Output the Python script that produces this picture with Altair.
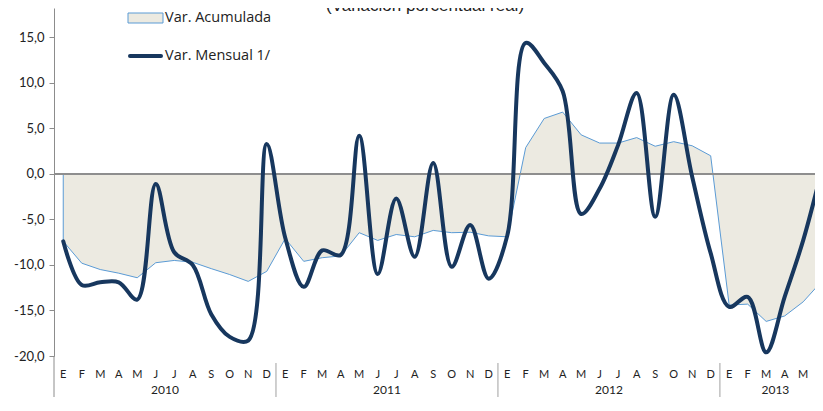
import altair as alt
import pandas as pd

# ---- data ----
month_letters = ["E", "F", "M", "A", "M", "J", "J", "A", "S", "O", "N", "D"]
years = ["2010", "2011", "2012", "2013"]
months_in_year = [12, 12, 12, 6]

mensual_2010 = [-7.4, -12.2, -11.9, -11.9, -13.8, -1.1, -8.6, -10.0, -15.4, -17.9, -18.3, 3.3]
mensual_2011 = [-7.0, -12.4, -8.4, -8.9, 4.2, -11.0, -2.7, -9.1, 1.2, -10.2, -5.6, -11.5]
mensual_2012 = [-6.8, 14.4, 12.2, 9.1, -4.4, -1.6, 3.2, 8.9, -4.7, 8.7, -0.3, -8.7]
mensual_2013 = [-14.6, -13.5, -19.6, -13.5, -7.3, 0.4]

acum_2010 = [-7.4, -9.8, -10.5, -10.9, -11.4, -9.75, -9.5, -9.7, -10.4, -11.05, -11.8, -10.7]
acum_2011 = [-7.1, -9.6, -9.2, -9.0, -6.45, -7.3, -6.65, -6.9, -6.2, -6.45, -6.4, -6.8]
acum_2012 = [-6.9, 2.9, 6.1, 6.8, 4.3, 3.4, 3.4, 4.0, 3.05, 3.55, 3.1, 2.0]
acum_2013 = [-14.4, -14.3, -16.2, -15.6, -14.05, -11.8]

y_ticks = [-20, -15, -10, -5, 0, 5, 10, 15]
title_text = "(Variación porcentual real)"
legend_labels = ["Var. Acumulada", "Var. Mensual 1/"]

# ---- tables ----
mensual = mensual_2010 + mensual_2011 + mensual_2012 + mensual_2013
acumulada = acum_2010 + acum_2011 + acum_2012 + acum_2013
n = len(mensual)
df = pd.DataFrame({
    "t": list(range(n)),
    "mensual": mensual,
    "acumulada": acumulada,
    "mes": [month_letters[i % 12] for i in range(n)],
})

starts = []
s = 0
for m in months_in_year:
    starts.append(s)
    s += m
df_years = pd.DataFrame({
    "year": years,
    "tc": [st + (m - 1) / 2 for st, m in zip(starts, months_in_year)],
})
df_sep_inner = pd.DataFrame({"t": [st - 0.5 for st in starts[1:]]})
df_sep_left = pd.DataFrame({"t": [-0.5]})

FONT = "Lato"
W, H = 761, 348
BOTTOM = 41
xscale = alt.Scale(domain=[-0.5, 40.64], nice=False, zero=False)
yscale = alt.Scale(domain=[-20, 18.24], nice=False, zero=False)

area = alt.Chart(df).mark_area(
    fill="#ECEAE1", stroke="#5B9BD5", strokeWidth=1, clip=True
).encode(
    x=alt.X("t:Q", scale=xscale, axis=None),
    y=alt.Y("acumulada:Q", scale=yscale, title=None,
            axis=alt.Axis(values=y_ticks, grid=False, tickSize=5, tickColor="#8C8C8C",
                          domainColor="#8C8C8C", domainWidth=1, labelPadding=5,
                          labelFont=FONT, labelFontSize=13, labelColor="#222222",
                          labelExpr="(datum.value < 0 ? '-' : '') + replace(format(abs(datum.value), '.1f'), '.', ',')")),
    y2=alt.datum(0),
)

zero = alt.Chart(pd.DataFrame({"v": [0]})).mark_rule(color="#8E8E8E", strokeWidth=2).encode(
    y=alt.Y("v:Q", scale=yscale)
)

line = alt.Chart(df).mark_line(
    color="#17375E", strokeWidth=4, interpolate="catmull-rom",
    clip=True, strokeCap="round", strokeJoin="round"
).encode(
    x=alt.X("t:Q", scale=xscale, axis=None),
    y=alt.Y("mensual:Q", scale=yscale),
)

month_text = alt.Chart(df).mark_text(
    font=FONT, fontSize=11, color="#222222", baseline="middle", align="center"
).encode(
    x=alt.X("t:Q", scale=xscale, axis=None),
    y=alt.value(367),
    text="mes:N",
)

year_text = alt.Chart(df_years).mark_text(
    font=FONT, fontSize=12, color="#222222", baseline="middle", align="center"
).encode(
    x=alt.X("tc:Q", scale=xscale, axis=None),
    y=alt.value(382),
    text="year:N",
)

sep_inner = alt.Chart(df_sep_inner).mark_rule(color="#A0A0A0", strokeWidth=1).encode(
    x=alt.X("t:Q", scale=xscale, axis=None),
    y=alt.value(355), y2=alt.value(H + BOTTOM),
)
sep_left = alt.Chart(df_sep_left).mark_rule(color="#8C8C8C", strokeWidth=1).encode(
    x=alt.X("t:Q", scale=xscale, axis=None),
    y=alt.value(H), y2=alt.value(H + BOTTOM),
)

# legend (drawn by hand)
leg_df1 = pd.DataFrame({"label": [legend_labels[0]]})
leg_df2 = pd.DataFrame({"label": [legend_labels[1]]})
leg_rect = alt.Chart(leg_df1).mark_rect(fill="#ECEAE1", stroke="#5B9BD5", strokeWidth=1).encode(
    x=alt.value(74), x2=alt.value(109), y=alt.value(5), y2=alt.value(15)
)
leg_text1 = alt.Chart(leg_df1).mark_text(
    font="Open Sans", fontSize=14.5, color="#222222", align="left", baseline="middle"
).encode(x=alt.value(111), y=alt.value(10), text="label:N")
leg_line = alt.Chart(leg_df2).mark_rule(color="#17375E", strokeWidth=4, strokeCap="round").encode(
    x=alt.value(76), x2=alt.value(107), y=alt.value(48)
)
leg_text2 = alt.Chart(leg_df2).mark_text(
    font="Open Sans", fontSize=14.5, color="#222222", align="left", baseline="middle"
).encode(x=alt.value(111), y=alt.value(48), text="label:N")

# chart title, cut off at the top edge as in the reference
title_df = pd.DataFrame({"label": [title_text]})
title = alt.Chart(title_df).mark_text(
    font="Liberation Sans", fontSize=17, color="#222222", align="center", baseline="alphabetic"
).encode(x=alt.value(371), y=alt.value(3), text="label:N")

chart = alt.layer(
    area, zero, line, month_text, year_text, sep_inner, sep_left,
    leg_rect, leg_text1, leg_line, leg_text2, title
).properties(
    width=W, height=H,
    autosize=alt.AutoSizeParams(type="none"),
    padding={"left": 46, "top": 0, "right": 0, "bottom": BOTTOM},
    background="white",
).configure_view(stroke=None)

chart.save("out.html", embed_options={"renderer": "svg", "actions": False})
